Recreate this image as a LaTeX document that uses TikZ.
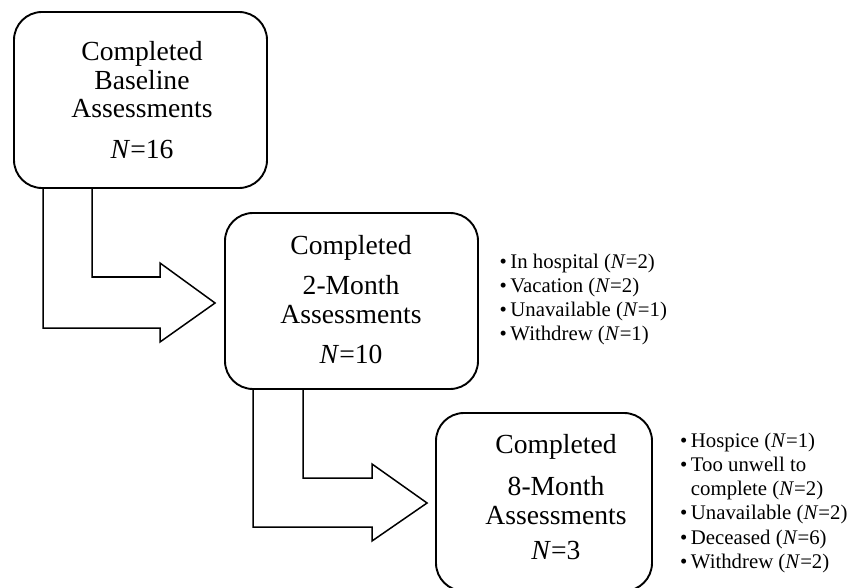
\documentclass[tikz,border=0pt]{standalone}
\usepackage{fontspec}
\setmainfont{Liberation Serif}
\usetikzlibrary{calc}
\begin{document}
\begin{tikzpicture}[x=1pt,y=-1pt,
  box/.style={draw, line width=1.9pt, rounded corners=28pt, inner sep=0pt},
  boxtext/.style={align=center, inner sep=0pt, font=\fontsize{27.6}{28.5}\selectfont},
  listtext/.style={align=left, inner sep=0pt, anchor=north west, font=\fontsize{20.8}{24.2}\selectfont},
  blockarrow/.style={draw, line width=1.5pt, line join=miter}]
\useasboundingbox (0,0) rectangle (857,588);
% boxes
\node[box, minimum width=253pt, minimum height=176pt] (b1) at (140.5,100) {};
\node[box, minimum width=253pt, minimum height=176pt] (b2) at (351.5,301) {};
\node[box, minimum width=216pt, minimum height=178pt] (b3) at (544,502) {};
% box texts
\node[boxtext] (t1) at (142,100.5) {Completed\\Baseline\\Assessments\\[12.5pt]\textit{N}=16};
\node[boxtext] (t2) at (351,299.6) {Completed\\[11.5pt]2-Month\\Assessments\\[11.5pt]\textit{N}=10};
\node[boxtext] (t3) at (556,497) {Completed\\[13.5pt]8-Month\\Assessments\\[6.5pt]\textit{N}=3};
% lists
\node[listtext] (l1) at (499.5,253.6) {•\,In hospital (\textit{N}=2)\\•\,Vacation (\textit{N}=2)\\•\,Unavailable (\textit{N}=1)\\•\,Withdrew (\textit{N}=1)};
\node[listtext] (l2) at (680,432.6) {•\,Hospice (\textit{N}=1)\\•\,Too unwell to\\\phantom{•\,}complete (\textit{N}=2)\\•\,Unavailable (\textit{N}=2)\\•\,Deceased (\textit{N}=6)\\•\,Withdrew (\textit{N}=2)};
% block arrows
\coordinate (a1i) at (b1.south -| 92,0);
\coordinate (a1o) at (b1.south -| 43,0);
\coordinate (a1tip) at ($(b2.west)+(-9,2)$);
\draw[blockarrow] (a1i) -- (92,277) -- (160,277) -- (160,263) -- (a1tip) -- (160,342) -- (160,328) -- (43,328) -- (a1o);
\coordinate (a2i) at (b2.south -| 303,0);
\coordinate (a2o) at (b2.south -| 253,0);
\coordinate (a2tip) at ($(b3.west)+(-8,1)$);
\draw[blockarrow] (a2i) -- (303,478) -- (372,478) -- (372,464) -- (a2tip) -- (372,541) -- (372,527) -- (253,527) -- (a2o);
\end{tikzpicture}
\end{document}
